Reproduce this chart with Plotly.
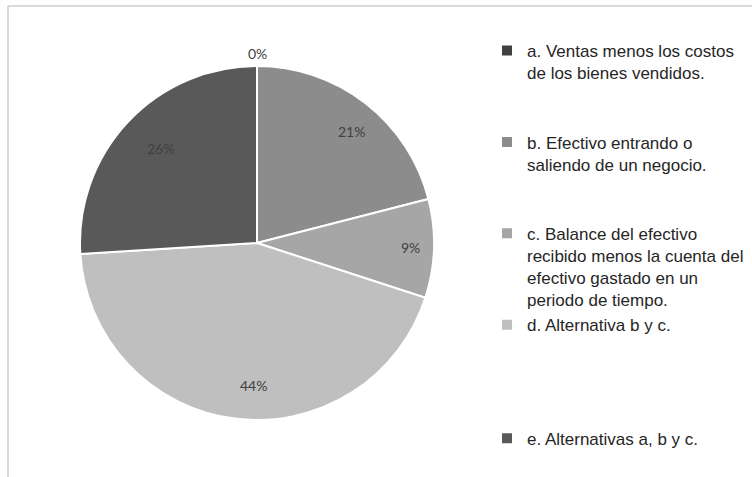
import math
import plotly.graph_objects as go

labels = [
    "a. Ventas menos los costos<br>de los bienes vendidos.",
    "b. Efectivo entrando o<br>saliendo de un negocio.",
    "c. Balance del efectivo<br>recibido menos la cuenta del<br>efectivo gastado en un<br>periodo de tiempo.",
    "d. Alternativa b y c.",
    "e. Alternativas a, b y c.",
]
values = [0, 21, 9, 44, 26]
colors = ["#404040", "#8c8c8c", "#a6a6a6", "#bfbfbf", "#595959"]
pad_lines = [2, 2, 0, 4, 0]

legend_labels = [lab + "<br> " * p for lab, p in zip(labels, pad_lines)]

W, H = 752, 477
CX, CY, R = 257, 243, 177  # pie centre / radius in pixels

fig = go.Figure()
fig.add_trace(go.Pie(
    labels=legend_labels,
    values=values,
    sort=False,
    direction="clockwise",
    rotation=0,
    marker=dict(colors=colors, line=dict(color="white", width=2)),
    textinfo="none",
    hoverinfo="percent",
    domain=dict(x=[(CX - R) / W, (CX + R) / W], y=[1 - (CY + R) / H, 1 - (CY - R) / H]),
    showlegend=True,
))

# percentage labels placed along each slice's mid-angle (Excel "best fit" style)
total = sum(values)
cum = 0
for v in values:
    mid = (cum + v / 2) / total * 2 * math.pi
    cum += v
    rf = 0.87 if v > 0 else 1.13
    px = CX + rf * R * math.sin(mid)
    py = CY - rf * R * math.cos(mid)
    fig.add_annotation(x=px / W, y=1 - py / H, xref="paper", yref="paper",
                       text=f"{round(v / total * 100)}%", showarrow=False,
                       font=dict(family="Lato", size=14, color="#404040"))

fig.add_shape(type="line", xref="paper", yref="paper",
              x0=8 / W, x1=8 / W, y0=-0.05, y1=1 - 6 / H,
              line=dict(color="#d9d9d9", width=2))
fig.add_shape(type="line", xref="paper", yref="paper",
              x0=8 / W, x1=1.05, y0=1 - 6 / H, y1=1 - 6 / H,
              line=dict(color="#d9d9d9", width=2))

fig.update_layout(
    width=W, height=H,
    margin=dict(l=0, r=0, t=0, b=0),
    paper_bgcolor="white",
    plot_bgcolor="white",
    legend=dict(
        x=487 / W, y=1 - 33 / H, xanchor="left", yanchor="top",
        font=dict(family="Liberation Sans", size=17, color="#262626"),
        valign="top",
        itemwidth=30,
        tracegroupgap=0,
        bgcolor="rgba(0,0,0,0)",
    ),
)

fig.write_html("out.html", config={"displayModeBar": False},
               post_script="document.body.style.margin='0';")
